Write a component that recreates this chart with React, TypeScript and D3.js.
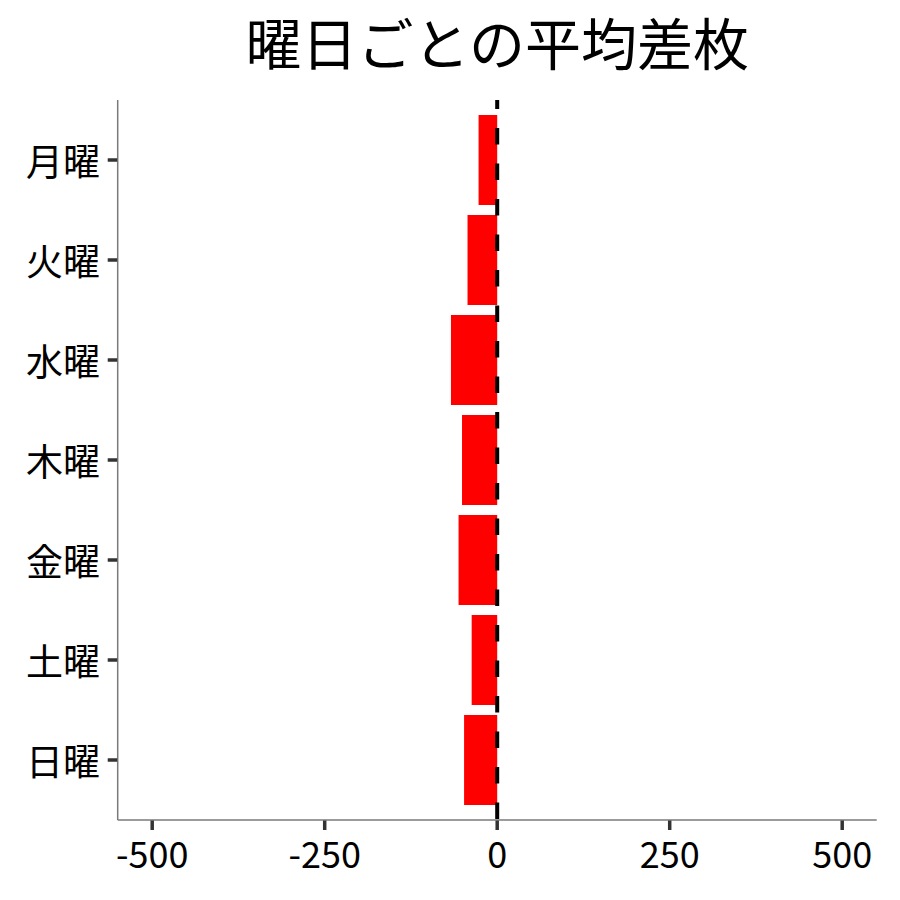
import React from "react";
import * as d3 from "d3";

const days = ["月曜", "火曜", "水曜", "木曜", "金曜", "土曜", "日曜"];
const avgDiff = [-27, -43, -67, -51, -56, -37, -48];
const xTicks = [-500, -250, 0, 250, 500];
const title = "曜日ごとの平均差枚";

const W = 900;
const H = 900;
const left = 117.7;
const right = 876.7;
const top = 100;
const bottom = 820;
const FONT = "'Noto Sans CJK JP', 'Noto Sans', sans-serif";

export default function App() {
  const x = d3.scaleLinear().domain([-550, 550]).range([left, right]);
  const y = d3
    .scaleBand<string>()
    .domain(days)
    .range([top, bottom])
    .paddingInner(0.1)
    .paddingOuter(0.15);

  return (
    <svg
      width={W}
      height={H}
      style={{ position: "absolute", left: 0, top: 0, background: "#fff" }}
      fontFamily={FONT}
    >
      <rect x={0} y={0} width={W} height={H} fill="#fff" />
      <text x={(left + right) / 2} y={65} textAnchor="middle" fontSize={56} fill="#000">
        {title}
      </text>
      {days.map((d, i) => {
        const v = avgDiff[i];
        const x0 = x(Math.min(0, v));
        const x1 = x(Math.max(0, v));
        return (
          <rect
            key={d}
            x={x0}
            y={y(d)}
            width={x1 - x0}
            height={y.bandwidth()}
            fill="#FF0000"
          />
        );
      })}
      <line
        x1={x(0)}
        x2={x(0)}
        y1={bottom - 1}
        y2={top}
        stroke="#000"
        strokeWidth={4}
        strokeDasharray="16.5 19"
      />
      {/* axes */}
      <line x1={left} x2={left} y1={top} y2={bottom} stroke="#7a7a7a" strokeWidth={1.5} />
      <line x1={left} x2={right} y1={bottom} y2={bottom} stroke="#7a7a7a" strokeWidth={1.5} />
      {days.map((d) => {
        const cy = (y(d) as number) + y.bandwidth() / 2;
        return (
          <g key={"yt" + d}>
            <line x1={left - 10} x2={left - 0.5} y1={cy} y2={cy} stroke="#333" strokeWidth={3.5} />
            <text
              x={100}
              y={cy}
              textAnchor="end"
              dominantBaseline="central"
              fontSize={37}
              fill="#000"
            >
              {d}
            </text>
          </g>
        );
      })}
      {xTicks.map((t) => (
        <g key={"xt" + t}>
          <line x1={x(t)} x2={x(t)} y1={bottom + 0.5} y2={bottom + 10} stroke="#333" strokeWidth={3.5} />
          <text x={x(t)} y={868} textAnchor="middle" fontSize={36} fill="#000">
            {t}
          </text>
        </g>
      ))}
    </svg>
  );
}
